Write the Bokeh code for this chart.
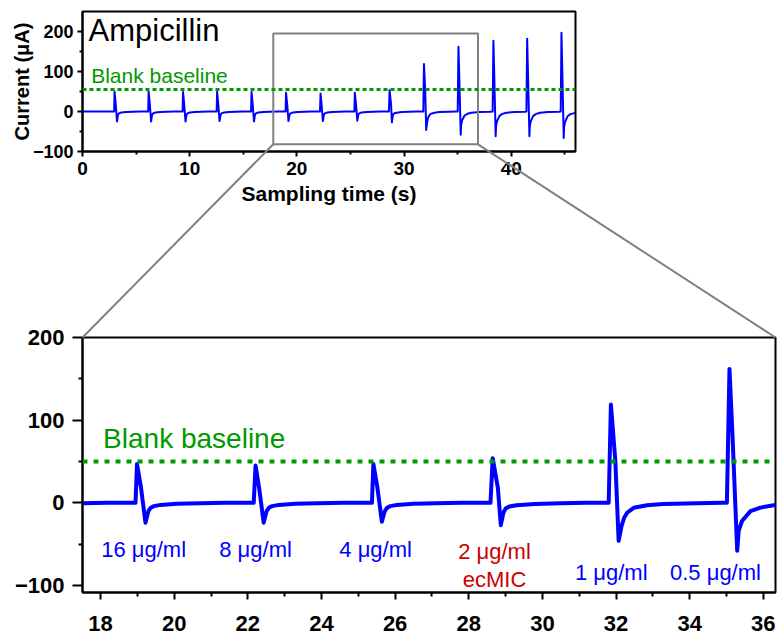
from bokeh.plotting import figure
from bokeh.models import Range1d, FixedTicker, Span
from bokeh.embed import file_html
from bokeh.resources import INLINE
from bokeh.core.properties import value

# ---------------- data ----------------
time_s = [
    0.00,
    2.95, 2.99, 3.10, 3.22, 3.30, 3.36, 3.45, 3.63, 4.08, 4.70, 5.40,
    6.13, 6.17, 6.28, 6.40, 6.48, 6.54, 6.63, 6.81, 7.26, 7.88, 8.60,
    9.34, 9.38, 9.49, 9.61, 9.69, 9.75, 9.84, 10.02, 10.47, 11.09, 11.80,
    12.52, 12.56, 12.67, 12.79, 12.87, 12.93, 13.02, 13.20, 13.65, 14.27, 15.00,
    15.73, 15.77, 15.88, 16.00, 16.08, 16.14, 16.23, 16.41, 16.86, 17.48, 18.20,
    18.95, 18.99, 19.10, 19.22, 19.30, 19.36, 19.45, 19.63, 20.08, 20.70, 21.40,
    22.16, 22.21, 22.31, 22.43, 22.51, 22.57, 22.66, 22.84, 23.29, 23.91, 24.60,
    25.37, 25.41, 25.52, 25.64, 25.72, 25.78, 25.87, 26.05, 26.50, 27.12, 27.80,
    28.59, 28.65, 28.79, 28.87, 28.94, 29.00, 29.10, 29.30, 29.80, 30.50, 31.20,
    31.80, 31.86, 31.98, 32.07, 32.15, 32.22, 32.30, 32.48, 32.84, 33.28, 34.20, 34.90,
    35.01, 35.08, 35.16, 35.29, 35.33, 35.42, 35.65, 35.92, 36.28, 37.00, 38.00,
    38.27, 38.34, 38.42, 38.55, 38.59, 38.68, 38.91, 39.18, 39.54, 40.30, 41.30,
    41.42, 41.49, 41.57, 41.70, 41.74, 41.83, 42.06, 42.33, 42.69, 43.45, 44.45,
    44.62, 44.69, 44.77, 44.90, 44.94, 45.03, 45.26, 45.53, 45.89, 46.00,
]
current_uA = [
    0,
    0, 50, 19, -25, -10, -6, -4, -2.5, -1.2, -0.5, 0,
    0, 50, 19, -25, -10, -6, -4, -2.5, -1.2, -0.5, 0,
    0, 49, 18, -25, -10, -6, -4, -2.5, -1.2, -0.5, 0,
    0, 50, 18, -24, -10, -6, -4, -2.5, -1.2, -0.5, 0,
    0, 49, 18, -25, -10, -6, -4, -2.5, -1.2, -0.5, 0,
    0, 47, 18, -24, -10, -6, -4, -2.5, -1.2, -0.5, 0,
    0, 45, 17, -24, -10, -6, -4, -2.5, -1.2, -0.5, 0,
    0, 47, 18, -23, -10, -6, -4, -2.5, -1.2, -0.5, 0,
    0, 54, 18, -27, -12, -7, -4.5, -3, -1.5, -0.5, 0,
    0, 119, 51, -46, -28, -18, -12, -6, -3, -1.5, -0.5, 0,
    0, 162, 84, -58, -34, -22, -10, -5.8, -3, -1.5, -0.5,
    0, 177, 90, -62, -36, -24, -11, -6, -3, -1.5, -0.5,
    0, 182, 92, -62, -36, -24, -11, -6, -3, -1.5, -0.5,
    0, 197, 100, -66, -38, -26, -12, -6.5, -4, -3.5,
]

blank_baseline_inset = 55
blank_baseline_main = 50

inset_x_range = (0, 46)
inset_y_range = (-100, 250)
inset_x_ticks = [0, 10, 20, 30, 40]
inset_x_minor = [5, 15, 25, 35, 45]
inset_y_ticks = [-100, 0, 100, 200]
inset_y_minor = [-50, 50, 150]

main_x_range = (17.51, 36.33)
main_y_range = (-108.5, 200)
main_x_ticks = [18, 20, 22, 24, 26, 28, 30, 32, 34, 36]
main_x_minor = [19, 21, 23, 25, 27, 29, 31, 33, 35]
main_y_ticks = [-100, 0, 100, 200]
main_y_minor = [-50, 50, 150]

# zoomed window drawn on the inset (inset data units)
zoom_left, zoom_right, zoom_bottom, zoom_top = 17.8, 36.9, -82, 195

conc_labels = ["16 μg/ml", "8 μg/ml", "4 μg/ml", "2 μg/ml", "1 μg/ml", "0.5 μg/ml"]
conc_x = [19.17, 22.21, 25.47, 28.70, 31.87, 34.70]
conc_y = [-56.3, -56.3, -56.3, -58.3, -84.8, -84.8]
mic_label = ["ecMIC"]
mic_x = [28.70]
mic_y = [-92.9]

# ---------------- style ----------------
FONT = "Liberation Sans"
BLUE = "#0000FF"
GREEN = "#009900"
RED = "#CC0000"
GRAY = "#808080"

W = 780
TOP_H = 326
T_L, T_R, T_T, T_B = 82, 575, 11, 151          # inset frame (page px)
BOT_H = 308
B_L, B_R, B_T, B_B = 82, 775, 11, 266          # main frame (local px)
BOT_OFF = TOP_H                                # main figure top in page px


def style_axis(ax, size, tick_out, minor_out, standoff):
    ax.axis_line_width = 2
    ax.axis_line_color = "black"
    ax.major_tick_in = 0
    ax.major_tick_out = tick_out
    ax.minor_tick_in = 0
    ax.minor_tick_out = minor_out
    ax.major_tick_line_width = 2
    ax.minor_tick_line_width = 2
    ax.major_tick_line_color = "black"
    ax.minor_tick_line_color = "black"
    ax.major_label_text_font = FONT
    ax.major_label_text_font_style = "bold"
    ax.major_label_text_font_size = size
    ax.major_label_text_color = "black"
    ax.major_label_standoff = standoff


# ---------------- inset (top) ----------------
top = figure(width=W, height=TOP_H,
             x_range=Range1d(*inset_x_range), y_range=Range1d(*inset_y_range),
             output_backend="svg", toolbar_location=None,
             min_border_left=T_L, min_border_right=W - T_R,
             min_border_top=T_T, min_border_bottom=TOP_H - T_B)
top.title.visible = False
top.xgrid.visible = False
top.ygrid.visible = False
top.outline_line_color = "black"
top.outline_line_width = 2
top.border_fill_color = None

top.xaxis.ticker = FixedTicker(ticks=inset_x_ticks, minor_ticks=inset_x_minor)
top.yaxis.ticker = FixedTicker(ticks=inset_y_ticks, minor_ticks=inset_y_minor)
style_axis(top.xaxis[0], "19px", 5, 3, 5)
style_axis(top.yaxis[0], "18px", 5, 3, 4)
top.xaxis.axis_label = "Sampling time (s)"
top.yaxis.axis_label = "Current (μA)"
for ax in (top.xaxis[0], top.yaxis[0]):
    ax.axis_label_text_font = FONT
    ax.axis_label_text_font_style = "bold"
    ax.axis_label_text_color = "black"
top.xaxis.axis_label_text_font_size = "21px"
top.yaxis.axis_label_text_font_size = "20px"
top.xaxis.axis_label_standoff = 4
top.yaxis.axis_label_standoff = -3

top.add_layout(Span(location=blank_baseline_inset, dimension="width",
                    line_color=GREEN, line_width=3, line_dash="4 3"))
top.line(time_s, current_uA, line_color=BLUE, line_width=2, line_join="round")
top.text(x=[0.56], y=[203], text=["Ampicillin"], text_font=value(FONT),
         text_font_size="31px", text_color="black", text_baseline="alphabetic")
top.text(x=[0.81], y=[90.8], text=["Blank baseline"], text_font=value(FONT),
         text_font_size="21px", text_color=GREEN, text_baseline="alphabetic")
top.quad(left=[zoom_left], right=[zoom_right], bottom=[zoom_bottom], top=[zoom_top],
         fill_alpha=0, line_color=GRAY, line_width=2)

# ---------------- main (bottom) ----------------
bot = figure(width=W, height=BOT_H,
             x_range=Range1d(*main_x_range), y_range=Range1d(*main_y_range),
             output_backend="svg", toolbar_location=None,
             min_border_left=B_L, min_border_right=W - B_R,
             min_border_top=B_T, min_border_bottom=BOT_H - B_B)
bot.title.visible = False
bot.xgrid.visible = False
bot.ygrid.visible = False
bot.outline_line_color = "black"
bot.outline_line_width = 2
bot.border_fill_color = None
bot.xaxis.ticker = FixedTicker(ticks=main_x_ticks, minor_ticks=main_x_minor)
bot.yaxis.ticker = FixedTicker(ticks=main_y_ticks, minor_ticks=main_y_minor)
style_axis(bot.xaxis[0], "22px", 7, 4, 16)
style_axis(bot.yaxis[0], "22px", 10, 4, 8)

bot.add_layout(Span(location=blank_baseline_main, dimension="width",
                    line_color=GREEN, line_width=4, line_dash="5 6"))
bot.line(time_s, current_uA, line_color=BLUE, line_width=4, line_join="round")
bot.text(x=[18.07], y=[78.2], text=["Blank baseline"], text_font=value(FONT),
         text_font_size="28px", text_color=GREEN, text_baseline="alphabetic")
conc_colors = [RED if "2 μg" in s else BLUE for s in conc_labels]
bot.text(x=conc_x, y=conc_y, text=conc_labels, text_color=conc_colors,
         text_font=value(FONT), text_font_size="22px", text_align="center",
         text_baseline="alphabetic")
bot.text(x=mic_x, y=mic_y, text=mic_label, text_color=RED,
         text_font=value(FONT), text_font_size="22px", text_align="center",
         text_baseline="alphabetic")

# ---------------- connector lines (zoom indication) ----------------
def inset_to_page(x, y):
    px = T_L + (x - inset_x_range[0]) / (inset_x_range[1] - inset_x_range[0]) * (T_R - T_L)
    py = T_T + (inset_y_range[1] - y) / (inset_y_range[1] - inset_y_range[0]) * (T_B - T_T)
    return px, py


def page_to_inset(px, py):
    x = inset_x_range[0] + (px - T_L) / (T_R - T_L) * (inset_x_range[1] - inset_x_range[0])
    y = inset_y_range[1] - (py - T_T) / (T_B - T_T) * (inset_y_range[1] - inset_y_range[0])
    return x, y


def page_to_main(px, py):
    ly = py - BOT_OFF
    x = main_x_range[0] + (px - B_L) / (B_R - B_L) * (main_x_range[1] - main_x_range[0])
    y = main_y_range[1] - (ly - B_T) / (B_B - B_T) * (main_y_range[1] - main_y_range[0])
    return x, y


pairs = [
    (inset_to_page(zoom_left, zoom_bottom), (B_L, BOT_OFF + B_T)),
    (inset_to_page(zoom_right, zoom_bottom), (B_R, BOT_OFF + B_T)),
]
for fig, conv in ((top, page_to_inset), (bot, page_to_main)):
    x0, y0, x1, y1 = [], [], [], []
    for a, b in pairs:
        xs, ys = conv(*a)
        xe, ye = conv(*b)
        x0.append(xs); y0.append(ys); x1.append(xe); y1.append(ye)
    fig.segment(x0=x0, y0=y0, x1=x1, y1=y1, line_color=GRAY, line_width=2,
                level="overlay")

open("out.html", "w").write(file_html([top, bot], INLINE))
